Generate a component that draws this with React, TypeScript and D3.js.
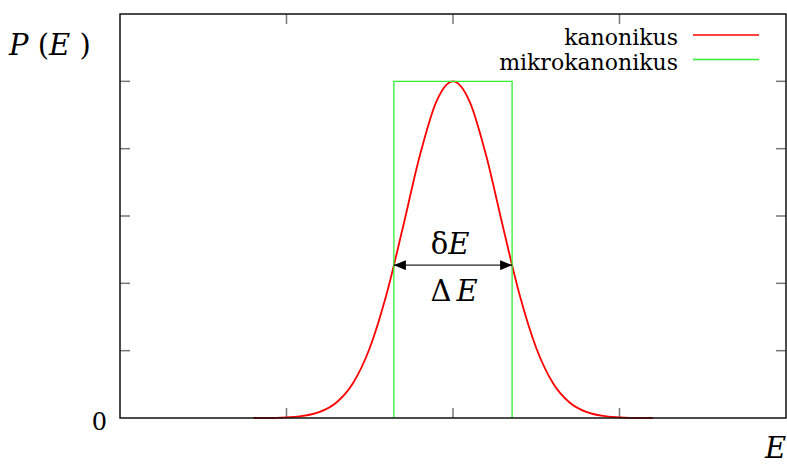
import React, { useEffect, useRef } from "react";
import * as d3 from "d3";

// canonical distribution
const energyX = [-2.4, -2.2, -2.0, -1.8, -1.6, -1.4, -1.2, -1.0, -0.8, -0.6, -0.4, -0.2, 0, 0.2, 0.4, 0.6, 0.8, 1.0, 1.2, 1.4, 1.6, 1.8, 2.0, 2.2, 2.4];
const kanonikusY = [0, 0, 0.01, 0.03, 0.09, 0.23, 0.52, 1.04, 1.83, 2.84, 3.89, 4.7, 5, 4.7, 3.89, 2.84, 1.83, 1.04, 0.52, 0.23, 0.09, 0.03, 0.01, 0, 0];

// microcanonical window
const mikroX = [-0.71, -0.71, 0.71, 0.71];
const mikroY = [0, 5, 5, 0];

const arrowLevel = 2.27;
const xTicks = [-2, 0, 2];
const yTicks = [1, 2, 3, 4, 5];
const legendLabels = ["kanonikus", "mikrokanonikus"];
const legendColors = ["#ff0000", "#33ee33"];

export default function App() {
  const svgRef = useRef<SVGSVGElement>(null);

  useEffect(() => {
    const w = 787;
    const h = 464;
    const margin = { top: 14, right: 1, bottom: 46, left: 120 };
    const svg = d3.select(svgRef.current);
    svg.selectAll("*").remove();

    const x = d3.scaleLinear().domain([-4, 4]).range([margin.left, w - margin.right]);
    const y = d3.scaleLinear().domain([0, 6]).range([h - margin.bottom, margin.top]);
    const font = "DejaVu Serif";

    // arrow marker
    const defs = svg.append("defs");
    ["start", "end"].forEach(k => {
      defs.append("marker")
        .attr("id", "arr-" + k)
        .attr("viewBox", "0 0 12 10")
        .attr("refX", k === "end" ? 12 : 0)
        .attr("refY", 5)
        .attr("markerWidth", 12)
        .attr("markerHeight", 10)
        .attr("markerUnits", "userSpaceOnUse")
        .attr("orient", "auto")
        .append("path")
        .attr("d", k === "end" ? "M0,0 L12,5 L0,10 Z" : "M12,0 L0,5 L12,10 Z")
        .attr("fill", "#000");
    });

    // ticks (inward, gray)
    const tickLen = 10;
    const g = svg.append("g").attr("stroke", "#777").attr("stroke-width", 1.5);
    xTicks.forEach(t => {
      g.append("line").attr("x1", x(t)).attr("x2", x(t)).attr("y1", y(0)).attr("y2", y(0) - tickLen);
      g.append("line").attr("x1", x(t)).attr("x2", x(t)).attr("y1", y(6)).attr("y2", y(6) + tickLen);
    });
    yTicks.forEach(t => {
      g.append("line").attr("x1", x(-4)).attr("x2", x(-4) + tickLen).attr("y1", y(t)).attr("y2", y(t));
      g.append("line").attr("x1", x(4)).attr("x2", x(4) - tickLen).attr("y1", y(t)).attr("y2", y(t));
    });

    // curves
    const line = d3.line<[number, number]>()
      .x(d => x(d[0]))
      .y(d => y(d[1]))
      .curve(d3.curveMonotoneX);
    svg.append("path")
      .attr("d", line(energyX.map((e, i) => [e, kanonikusY[i]] as [number, number])))
      .attr("fill", "none")
      .attr("stroke", legendColors[0])
      .attr("stroke-width", 1.8);

    const rect = d3.line<[number, number]>().x(d => x(d[0])).y(d => y(d[1]));
    svg.append("path")
      .attr("d", rect(mikroX.map((e, i) => [e, mikroY[i]] as [number, number])))
      .attr("fill", "none")
      .attr("stroke", legendColors[1])
      .attr("stroke-width", 1.3);

    // frame
    svg.append("rect")
      .attr("x", x(-4)).attr("y", y(6))
      .attr("width", x(4) - x(-4)).attr("height", y(0) - y(6))
      .attr("fill", "none").attr("stroke", "#111").attr("stroke-width", 1.5);

    // arrow
    svg.append("line")
      .attr("x1", x(mikroX[0])).attr("x2", x(mikroX[3]))
      .attr("y1", y(arrowLevel)).attr("y2", y(arrowLevel))
      .attr("stroke", "#222").attr("stroke-width", 1.3)
      .attr("marker-start", "url(#arr-start)")
      .attr("marker-end", "url(#arr-end)");

    const txt = svg.append("g").style("font-family", font).attr("fill", "#000");

    const dE = txt.append("text").attr("x", x(0) - 3).attr("y", 254).attr("text-anchor", "middle").attr("font-size", 29);
    dE.append("tspan").text("δ");
    dE.append("tspan").attr("font-style", "italic").text("E");

    const DE = txt.append("text").attr("x", x(0) + 1).attr("y", 301).attr("text-anchor", "middle").attr("font-size", 29);
    DE.append("tspan").text("Δ");
    DE.append("tspan").attr("dx", 5).attr("font-style", "italic").text("E");

    // axis labels
    const pe = txt.append("text").attr("x", 9).attr("y", 55).attr("font-size", 29);
    pe.append("tspan").attr("font-style", "italic").text("P");
    pe.append("tspan").text(" (");
    pe.append("tspan").attr("font-style", "italic").text("E");
    pe.append("tspan").text(" )");

    txt.append("text").attr("x", 107).attr("y", 430).attr("text-anchor", "end").attr("font-size", 24).text("0");

    txt.append("text").attr("x", 765).attr("y", 458).attr("font-size", 29).attr("font-style", "italic").text("E");

    // legend
    legendLabels.forEach((lab, i) => {
      const ly = 35 + i * 24.5;
      txt.append("text").attr("x", 678).attr("y", ly + 10).attr("text-anchor", "end").attr("font-size", 22).text(lab);
      svg.append("line")
        .attr("x1", 693).attr("x2", 759).attr("y1", ly).attr("y2", ly)
        .attr("stroke", legendColors[i]).attr("stroke-width", 1.3);
    });
  }, []);

  return (
    <svg
      ref={svgRef}
      width={787}
      height={464}
      style={{ position: "absolute", left: 0, top: 0, background: "#fff" }}
    />
  );
}
